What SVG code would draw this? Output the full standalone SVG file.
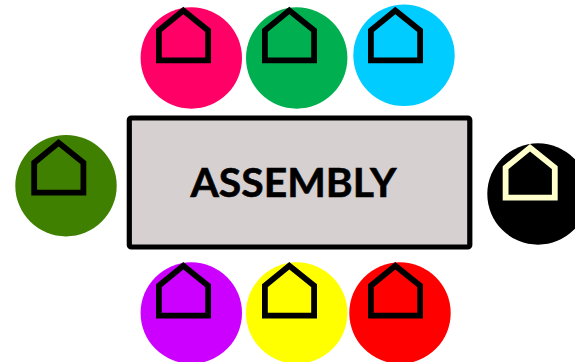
<svg xmlns="http://www.w3.org/2000/svg" width="575" height="362" viewBox="0 0 575 362">
<style>
.house{fill:none;stroke:#000;stroke-width:5.8;stroke-linejoin:miter}
.label{font-family:"Lato","Liberation Sans",sans-serif;font-weight:700;font-size:41px;fill:#000;stroke:#000;stroke-width:.6}
</style>
<defs><path id="h" d="M158.9 60.4V30.4L183.3 10.4L208.1 30.4V60.4Z"/></defs>
<rect width="575" height="362" fill="#fff"/>
<g id="assembly"><rect x="129.3" y="118" width="340.5" height="129" rx="2" fill="#D6D0D0" stroke="#000" stroke-width="5.2"/><text class="label" x="293.5" y="197" text-anchor="middle" textLength="206" lengthAdjust="spacingAndGlyphs">ASSEMBLY</text></g>
<g id="pink"><circle cx="191.3" cy="58" r="50.7" fill="#FF0066"/><use href="#h" class="house"/></g>
<g id="green"><circle cx="296.7" cy="58" r="50.7" fill="#00B050"/><use href="#h" x="106" class="house"/></g>
<g id="cyan"><circle cx="404" cy="55.3" r="50.7" fill="#00CCFF"/><use href="#h" x="212" class="house"/></g>
<g id="darkgreen"><circle cx="66" cy="185.7" r="50.7" fill="#408000"/><use href="#h" x="-124.7" y="132.3" class="house"/></g>
<g id="black"><circle cx="538" cy="194" r="50.7" fill="#000"/><use href="#h" x="346.7" y="137.3" class="house" style="stroke:#FFFFCC"/></g>
<g id="purple"><circle cx="191.3" cy="313" r="50.7" fill="#CC00FF"/><use href="#h" y="255.3" class="house"/></g>
<g id="yellow"><circle cx="296.7" cy="313" r="50.7" fill="#FFFF00"/><use href="#h" x="106" y="255.3" class="house"/></g>
<g id="red"><circle cx="400" cy="313" r="50.7" fill="#FF0000"/><use href="#h" x="212" y="255.3" class="house"/></g>
<g id="connectors"/>
</svg>
